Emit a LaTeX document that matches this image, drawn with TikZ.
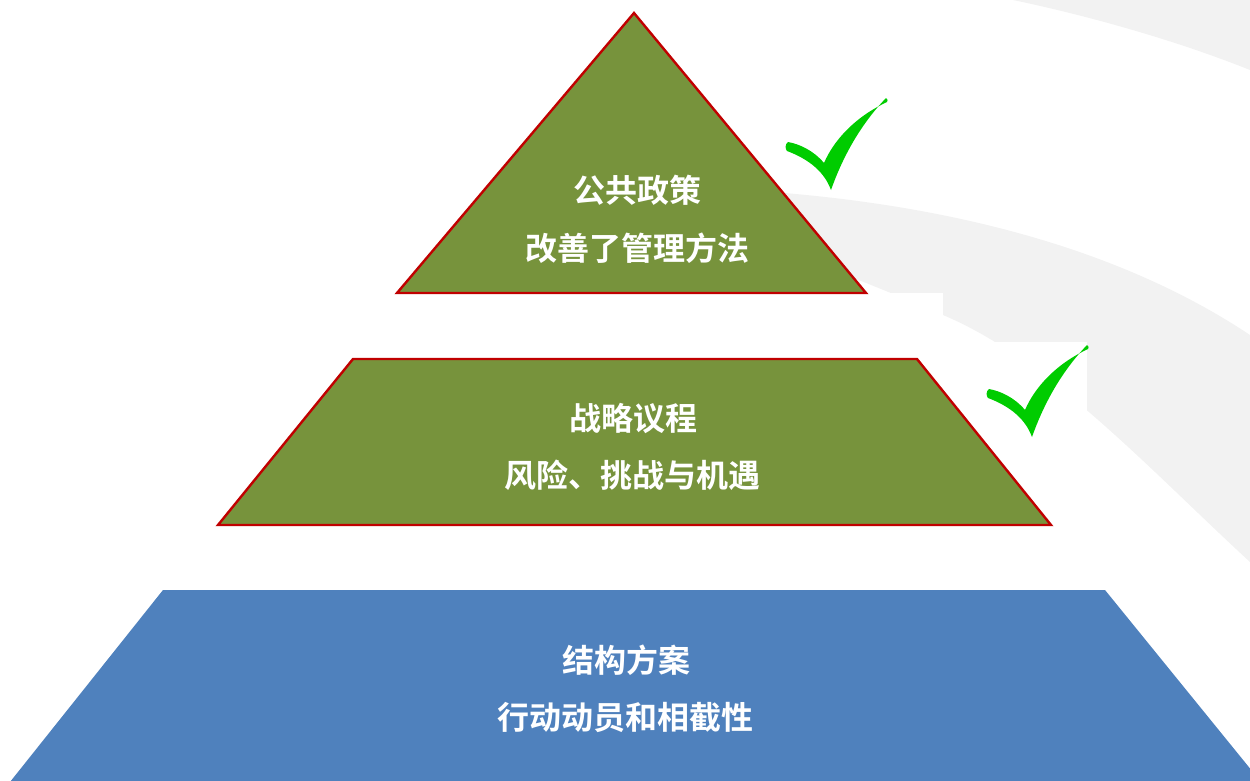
\documentclass[tikz,border=0pt]{standalone}
\usepackage{fontspec}
\newfontfamily\cjk[BoldFont={Noto Sans CJK SC Bold}]{Noto Sans CJK SC}
\definecolor{olive}{RGB}{119,147,60}
\definecolor{redline}{RGB}{192,0,0}
\definecolor{steel}{RGB}{79,129,189}
\definecolor{band}{RGB}{242,242,242}
\definecolor{tickgreen}{RGB}{0,204,0}
\tikzset{
  layer/.style={fill=olive, draw=redline, line width=2.4pt, line join=miter},
  baselayer/.style={fill=steel},
  label/.style={text=white, font=\cjk\bfseries\fontsize{32}{38}\selectfont, inner sep=0pt},
  pics/greentick/.style={code={
    \fill[tickgreen] (-44,-39) .. controls (-28,-33) and (-8,-22) .. (0,0)
      .. controls (12,-34) and (30,-66) .. (55,-92)
      .. controls (57,-91) and (57,-89) .. (56,-88)
      .. controls (22,-72) and (2,-48) .. (-7,-27)
      .. controls (-18,-40) and (-32,-46) .. (-43,-48)
      .. controls (-46,-46) and (-46,-41) .. cycle;
  }}
}
\begin{document}
\begin{tikzpicture}[x=1pt,y=-1pt]
\useasboundingbox (0,0) rectangle (1250,780);
\clip (0,0) rectangle (1250,780);
% background swooshes
\fill[band] (1013,0) .. controls (1080,14) and (1170,38) .. (1250,70) -- (1250,0) -- cycle;
\fill[band] (700,188) .. controls (900,195) and (1100,235) .. (1250,335)
  -- (1250,562) .. controls (1150,470) and (1050,360) .. (943,315)
  .. controls (850,275) and (760,240) .. (700,230) -- cycle;
% white picture backgrounds
\fill[white] (866,293) rectangle (943,356);
\fill[white] (988,342) rectangle (1087,437);
% layers
\fill[baselayer] (163,590) -- (1105,590) -- (1261,782) -- (10,782) -- cycle;
\draw[layer] (353,359) -- (917,359) -- (1051,525) -- (218,525) -- cycle;
\draw[layer] (634,13) -- (866,293) -- (397,293) -- cycle;
% texts
\node[label] (t1) at (637,190) {公共政策};
\node[label] (t2) at (637,248) {改善了管理方法};
\node[label] (m1) at (633,418) {战略议程};
\node[label] (m2) at (632,475) {风险、挑战与机遇};
\node[label] (b1) at (626,660) {结构方案};
\node[label] (b2) at (625,717) {行动动员和相截性};
% ticks
\pic at (831,190) {greentick};
\pic at (1032,437) {greentick};
\end{tikzpicture}
\end{document}
